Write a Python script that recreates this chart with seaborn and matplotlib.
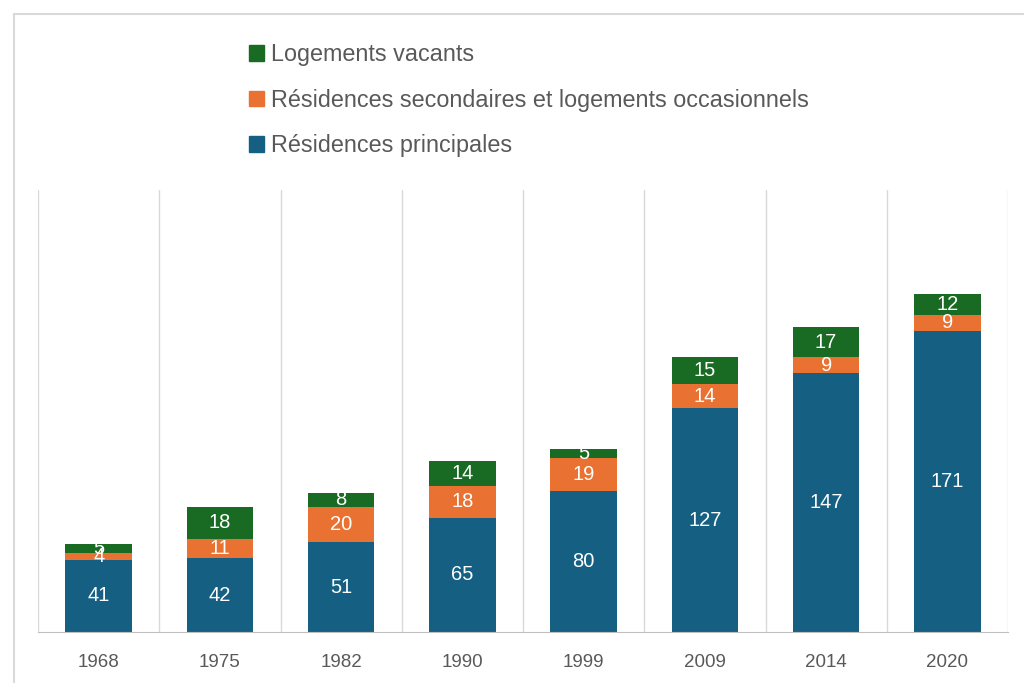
import matplotlib
matplotlib.use("Agg")
import matplotlib.pyplot as plt
import seaborn as sns
import numpy as np
from matplotlib.patches import Patch, Rectangle

years = ['1968', '1975', '1982', '1990', '1999', '2009', '2014', '2020']
principales = [41, 42, 51, 65, 80, 127, 147, 171]
secondaires = [4, 11, 20, 18, 19, 14, 9, 9]
vacants = [5, 18, 8, 14, 5, 15, 17, 12]

c_princ = '#156082'
c_sec = '#E97132'
c_vac = '#196B24'

sns.set_style('white')
plt.rcParams['font.family'] = ['Liberation Sans', 'DejaVu Sans']

fig = plt.figure(figsize=(10.24, 6.83), dpi=100)
ax = fig.add_axes([38 / 1024, 51 / 683, 970 / 1024, 442 / 683])

bottom2 = np.array(principales)
bottom3 = bottom2 + np.array(secondaires)

bar_kw = dict(width=0.55, ax=ax, saturation=1, linewidth=0, edgecolor='none')
sns.barplot(x=years, y=principales, color=c_princ, **bar_kw)
sns.barplot(x=years, y=secondaires, bottom=bottom2, color=c_sec, **bar_kw)
sns.barplot(x=years, y=vacants, bottom=bottom3, color=c_vac, **bar_kw)

# data labels (the 1968 small segments overlap, as in the source)
for i in range(len(years)):
    ax.text(i, principales[i] / 2, str(principales[i]), ha='center', va='center',
            color='white', fontsize=14.5)
    ax.text(i, bottom2[i] + secondaires[i] / 2, str(secondaires[i]), ha='center',
            va='center', color='white', fontsize=14.5)
    ax.text(i, bottom3[i] + vacants[i] / 2, str(vacants[i]), ha='center', va='center',
            color='white', fontsize=14.5)

ax.set_ylim(0, 251)
ax.set_xlim(-0.5, len(years) - 0.5)
ax.set_yticks([])
ax.set_xticks(range(len(years)))
ax.set_xticklabels(years, color='#595959', fontsize=13.5)
ax.tick_params(axis='x', length=0, pad=16)
ax.set_xticks(np.arange(-0.5, len(years), 1), minor=True)
ax.tick_params(axis='x', which='minor', length=0)
ax.grid(axis='x', which='minor', color='#D9D9D9', linewidth=1)
ax.set_axisbelow(True)
for s in ['top', 'right', 'left']:
    ax.spines[s].set_visible(False)
ax.spines['bottom'].set_color('#BFBFBF')

handles = [Patch(color=c_vac), Patch(color=c_sec), Patch(color=c_princ)]
labels = ['Logements vacants', 'Résidences secondaires et logements occasionnels',
          'Résidences principales']
fig.legend(handles, labels, loc='upper left', bbox_to_anchor=(228 / 1024, 1 - 22 / 683),
           frameon=False, fontsize=16.8, labelcolor='#595959', handlelength=0.65,
           handleheight=0.65, handletextpad=0.3, labelspacing=0.97)

fig.patches.append(Rectangle((14 / 1024, -0.1), 1.2, 1.1 - 14 / 683,
                             transform=fig.transFigure, fill=False,
                             edgecolor='#D9D9D9', linewidth=1.5))

fig.savefig('out.png', dpi=100)
